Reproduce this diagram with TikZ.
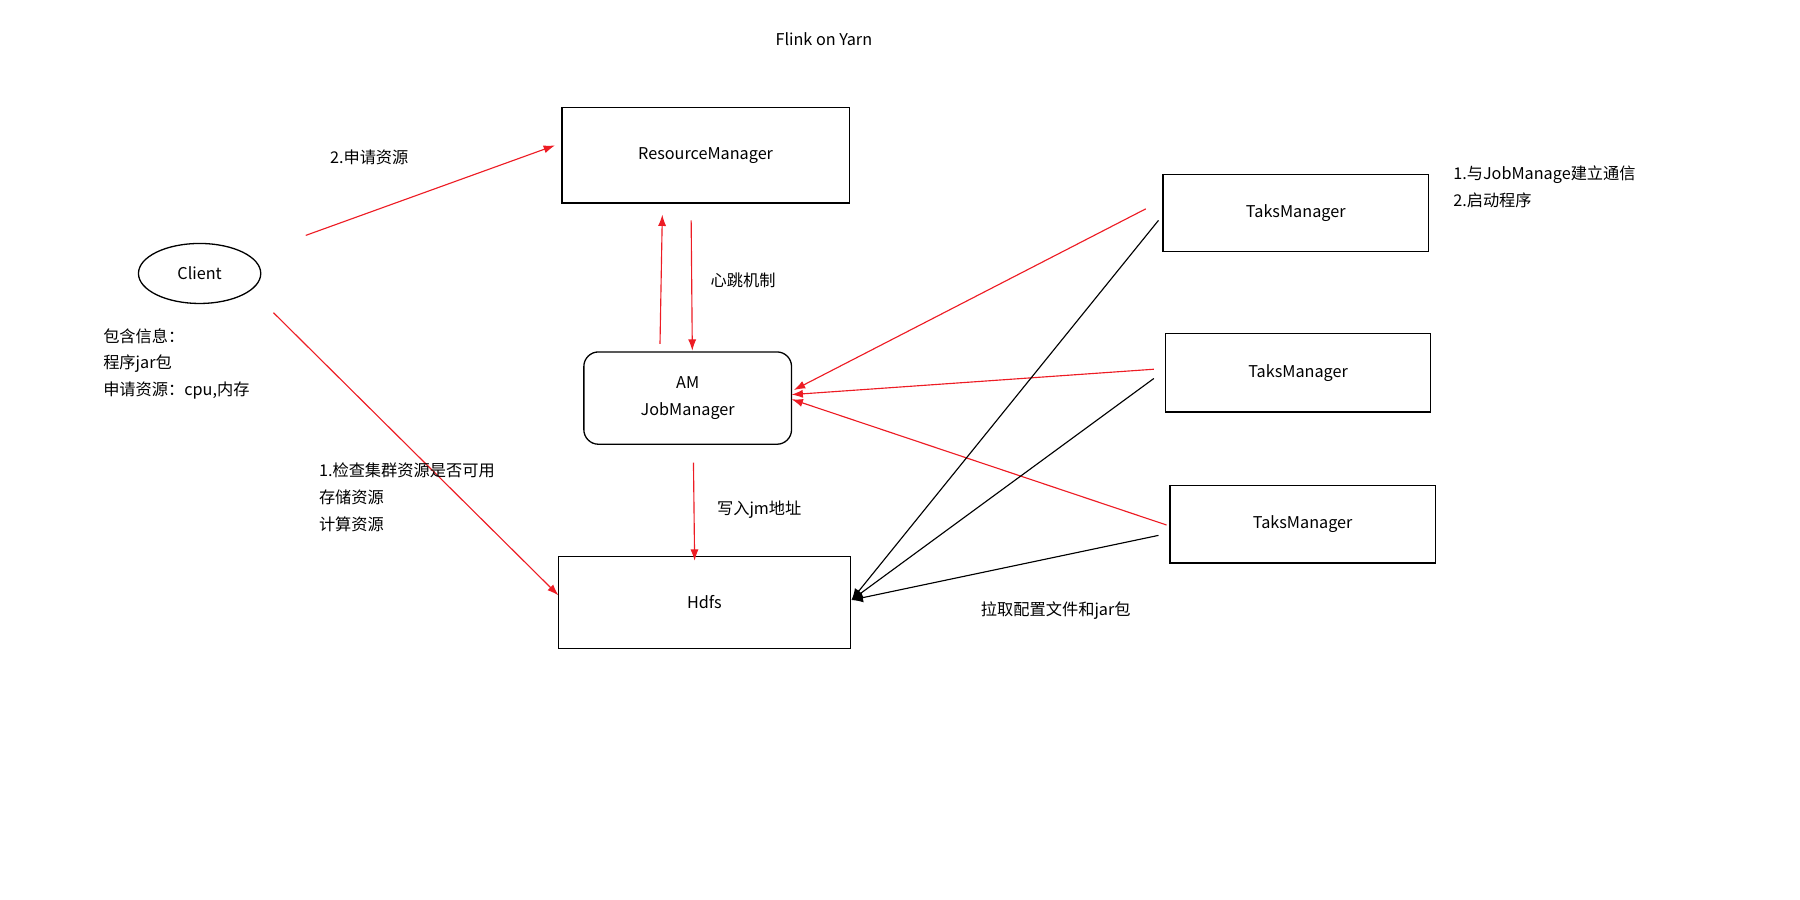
\documentclass[tikz,border=0pt]{standalone}
\usepackage{fontspec}
\setmainfont{Noto Sans CJK SC}
\usetikzlibrary{arrows.meta}
\begin{document}
\begin{tikzpicture}[x=0.05cm,y=-0.05cm,
  every node/.style={font=\fontsize{20}{33}\selectfont},
  box/.style={draw,line width=1.6pt,minimum width=#1,anchor=center},
  red arrow/.style={draw={rgb,255:red,237;green,28;blue,36},line width=1.4pt,-{Latex[length=14pt,width=10pt]}},
  blk arrow/.style={draw,line width=1.4pt,-{Latex[length=14pt,width=12pt]}},
  lbl/.style={align=left,anchor=north west}]
\useasboundingbox (0,0) rectangle (1560,780);
\node at (714,34) {Flink on Yarn};
\draw[line width=1.6pt] (487,93) rectangle (736,176); \node (rm) at (611.5,134.5) {ResourceManager};
\draw[line width=1.6pt,rounded corners=18pt] (506,305) rectangle (686,385); \node[align=center] (am) at (596,345) {AM\\JobManager};
\draw[line width=1.6pt] (484,482) rectangle (737,562); \node (hd) at (610.5,522) {Hdfs};
\draw[line width=1.6pt] (173,237) ellipse [x radius=53,y radius=26]; \node (cl) at (173,237) {Client};
\draw[line width=1.6pt] (1008,151) rectangle (1238,218); \node (t1) at (1123,184.5) {TaksManager};
\draw[line width=1.6pt] (1010,289) rectangle (1240,357); \node (t2) at (1125,323) {TaksManager};
\draw[line width=1.6pt] (1014,421) rectangle (1244,488); \node (t3) at (1129,454.5) {TaksManager};
\coordinate (a1) at (265,204); \coordinate (b1) at (481,126);
\coordinate (a2) at (237,271); \coordinate (b2) at (484,516);
\coordinate (a3) at (572,298); \coordinate (b3) at (574,186);
\coordinate (a4) at (599,191); \coordinate (b4) at (600,304);
\coordinate (a5) at (601,401); \coordinate (b5) at (602,486);
\coordinate (a6) at (993,181); \coordinate (b6) at (688,338);
\coordinate (a7) at (1000,320); \coordinate (b7) at (686,342);
\coordinate (a8) at (1011,455); \coordinate (b8) at (686,346);
\coordinate (c1) at (1004,191); \coordinate (c2) at (1000,328); \coordinate (c3) at (1004,464);
\coordinate (h) at (738,520);
\foreach \s/\e in {a1/b1,a2/b2,a3/b3,a4/b4,a5/b5,a6/b6,a7/b7,a8/b8} \draw[red arrow] (\s) -- (\e);
\foreach \s in {c1,c2,c3} \draw[blk arrow] (\s) -- (h);
\node at (320,136) {2.申请资源};
\node at (644,243) {心跳机制};
\node at (658,442) {写入jm地址};
\node at (915,529) {拉取配置文件和jar包};
\node[lbl] at (274,399) {1.检查集群资源是否可用\\存储资源\\计算资源};
\node[lbl] at (87,282) {包含信息：\\程序jar包\\申请资源：cpu,内存};
\node[lbl] at (1257,141) {1.与JobManage建立通信\\2.启动程序};
\end{tikzpicture}
\end{document}
